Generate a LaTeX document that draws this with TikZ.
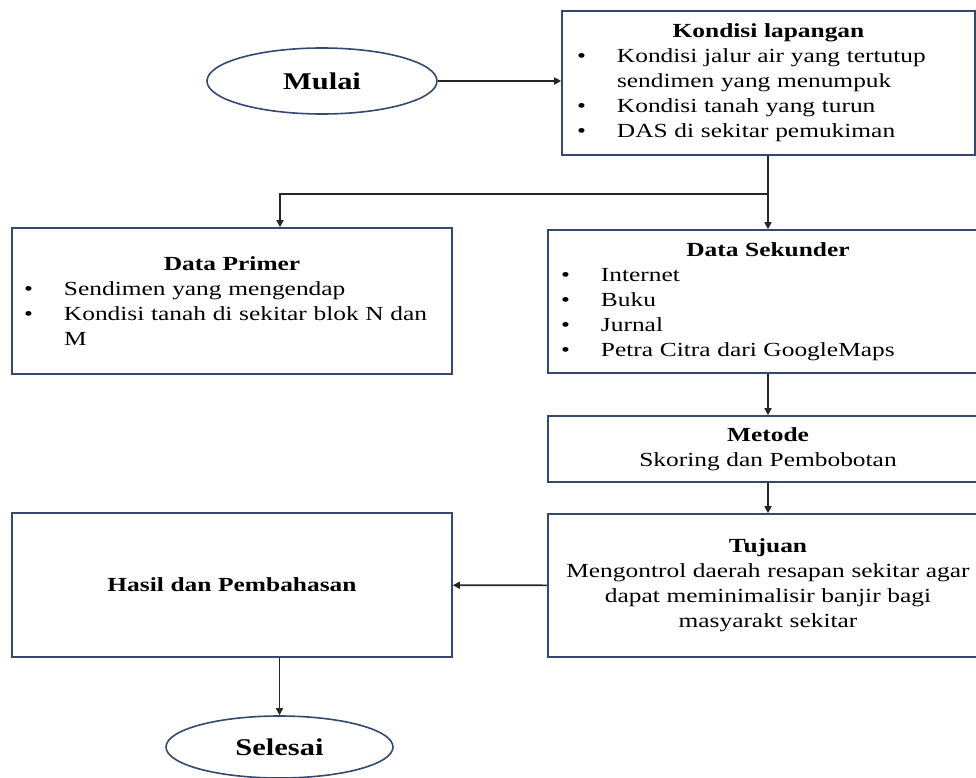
\documentclass[tikz,border=0pt]{standalone}
\usepackage{fontspec}
\setmainfont{Liberation Serif}[FakeStretch=1.27]
\usetikzlibrary{arrows.meta,shapes.geometric}
\definecolor{edgeblue}{RGB}{52,72,112}
\newcommand{\itm}{\makebox[40pt][l]{\textbullet}}
\newcommand{\itc}{\hspace*{40pt}}
\newcommand{\ttl}[1]{\makebox[\linewidth]{\textbf{#1}}}

\begin{document}
\begin{tikzpicture}[x=1pt,y=-1pt,
	box/.style={draw=edgeblue,line width=1.6pt,rectangle,minimum width=440pt,text width=414pt,inner xsep=13pt,inner ysep=0pt,align=left},
	oval/.style={draw=edgeblue,line width=1.6pt,ellipse,inner sep=0pt,font=\fontsize{24}{28}\selectfont\bfseries},
	arr/.style={draw=black!85,line width=1.6pt,-{Triangle[length=7pt,width=7pt]}}]
		\tikzstyle{every node}+=[font=\fontsize{20}{25}\selectfont]
		\useasboundingbox (0,0) rectangle (976,778);
		\node [oval,minimum width=230pt,minimum height=66pt] (mulai) at (322,81) {Mulai};
		\node [box,minimum width=413pt,minimum height=144pt,text width=383pt,inner xsep=15pt] (kondisi) at (768.5,83) {\ttl{Kondisi lapangan}\\
			\itm Kondisi jalur air yang tertutup\\
			\itc sendimen yang menumpuk\\
			\itm Kondisi tanah yang turun\\
			\itm DAS di sekitar pemukiman};
		\node [box,minimum height=146pt,text width=416pt,inner xsep=12pt] (primer) at (232,301) {\ttl{Data Primer}\\
			\itm Sendimen yang mengendap\\
			\itm Kondisi tanah di sekitar blok N dan\\
			\itc M};
		\node [box,minimum height=143pt] (sekunder) at (768,301.5) {\ttl{Data Sekunder}\\
			\itm Internet\\
			\itm Buku\\
			\itm Jurnal\\
			\itm Petra Citra dari GoogleMaps};
		\node [box,minimum height=66pt,align=center] (metode) at (768,449) {\textbf{Metode}\\Skoring dan Pembobotan};
		\node [box,minimum height=143pt,align=center] (tujuan) at (768,585.5) {\textbf{Tujuan}\\Mengontrol daerah resapan sekitar agar\\dapat meminimalisir banjir bagi\\masyarakt sekitar};
		\node [box,minimum height=144pt,text width=416pt,inner xsep=12pt,align=center] (hasil) at (232,585) {\textbf{Hasil dan Pembahasan}};
		\node [oval,minimum width=227pt,minimum height=62pt] (selesai) at (279.5,747) {Selesai};
		\coordinate (split) at (768,194);
		\draw [arr] (mulai.east) -- (mulai.east -| kondisi.west);
		\draw [arr] (sekunder.north |- kondisi.south) -- (sekunder.north);
		\draw [arr] (split) -| ([xshift=48pt]primer.north);
		\draw [arr] (sekunder) -- (metode);
		\draw [arr] (metode) -- (tujuan);
		\draw [arr] (tujuan) -- (hasil);
		\draw [arr] (selesai.north |- hasil.south) -- (selesai);
	\end{tikzpicture}
\end{document}
